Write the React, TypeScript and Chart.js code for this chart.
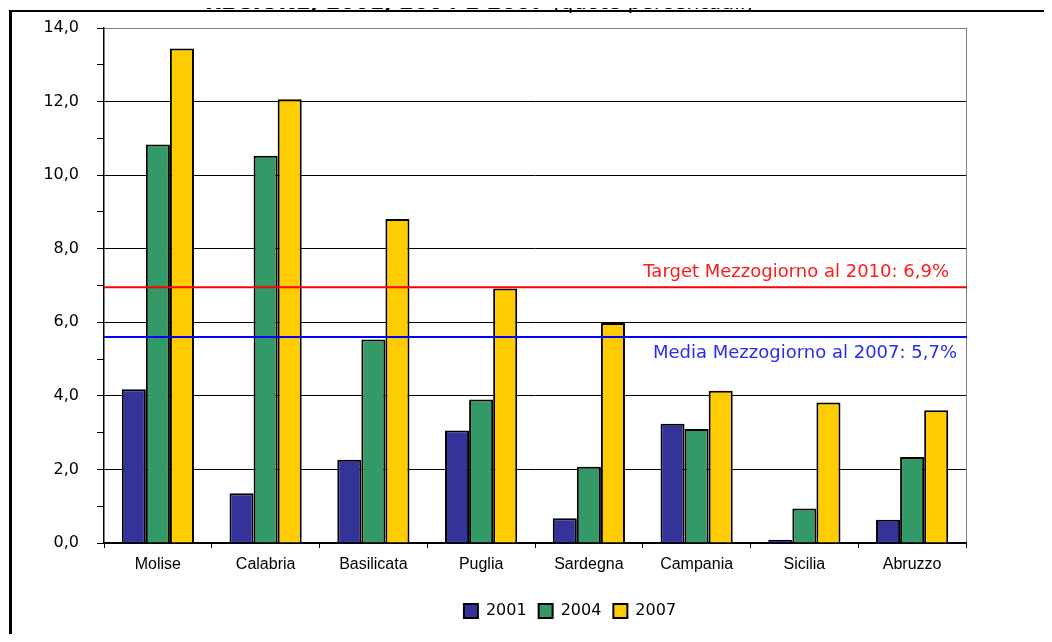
import React, { useEffect, useRef } from 'react';
import { Chart, registerables } from 'chart.js';

Chart.register(...registerables);

const titleBold = 'REGIONE, 2001, 2004 E 2007';
const titleRest = ' (quote percentuali)';

const categories = ['Molise', 'Calabria', 'Basilicata', 'Puglia', 'Sardegna', 'Campania', 'Sicilia', 'Abruzzo'];
const seriesLabels = ['2001', '2004', '2007'];
const values2001 = [4.18, 1.35, 2.26, 3.06, 0.67, 3.24, 0.09, 0.63];
const values2004 = [10.83, 10.53, 5.53, 3.9, 2.07, 3.1, 0.94, 2.34];
const values2007 = [13.44, 12.06, 8.81, 6.92, 5.98, 4.14, 3.82, 3.61];
const seriesColors = ['#333399', '#339966', '#FFCC00'];

const yMin = 0;
const yMax = 14;
const yMajorStep = 2;

const refValues = [6.95, 5.6];
const refLabels = ['Target Mezzogiorno al 2010: 6,9%', 'Media Mezzogiorno al 2007: 5,7%'];
const refLineColors = ['#FF0000', '#0000FF'];
const refTextColors = ['#FF1A1A', '#2B2BF0'];

const refLinesPlugin = {
  id: 'refLines',
  afterDatasetsDraw(chart: any) {
    const { ctx, chartArea, scales } = chart;
    const y = scales.y;
    const textOffsets = [
      { dx: -17, dy: -10 },
      { dx: -9, dy: 21 },
    ];
    ctx.save();
    refValues.forEach((v, i) => {
      const py = y.getPixelForValue(v);
      ctx.beginPath();
      ctx.strokeStyle = refLineColors[i];
      ctx.lineWidth = 2;
      ctx.moveTo(chartArea.left, py);
      ctx.lineTo(chartArea.right + 1, py);
      ctx.stroke();
      ctx.fillStyle = refTextColors[i];
      ctx.font = '18px "DejaVu Sans"';
      ctx.textAlign = 'right';
      ctx.textBaseline = 'alphabetic';
      ctx.fillText(refLabels[i], chartArea.right + textOffsets[i].dx, py + textOffsets[i].dy);
    });
    ctx.restore();
  },
};

export default function App() {
  const canvasRef = useRef<HTMLCanvasElement | null>(null);

  useEffect(() => {
    const canvas = canvasRef.current;
    if (!canvas) return;
    const dataSets = [values2001, values2004, values2007];
    const chart = new Chart(canvas, {
      type: 'bar',
      data: {
        labels: categories,
        datasets: seriesLabels.map((label, i) => ({
          label,
          data: dataSets[i],
          backgroundColor: seriesColors[i],
          borderColor: '#000000',
          borderWidth: 2,
          categoryPercentage: 0.67,
          barPercentage: 1.0,
        })),
      },
      options: {
        responsive: false,
        animation: false,
        devicePixelRatio: 1,
        layout: { padding: { top: 28, left: 0, right: 0, bottom: 13 } },
        plugins: {
          title: { display: false },
          tooltip: { enabled: false },
          legend: {
            display: true,
            position: 'bottom',
            labels: {
              boxWidth: 14,
              boxHeight: 14,
              padding: 12,
              color: '#000000',
              font: { family: '"DejaVu Sans"', size: 16 },
            },
          },
        },
        scales: {
          x: {
            afterFit: (s: any) => {
              s.height = 48;
            },
            grid: {
              display: true,
              offset: true,
              drawTicks: true,
              tickLength: 5,
              tickColor: '#000000',
              lineWidth: 1,
              color: (c: any) => (c.type === 'tick' ? 'rgba(0,0,0,0)' : '#808080'),
            },
            border: { display: true, color: '#000000', width: 1.5 },
            ticks: {
              color: '#000000',
              padding: 7,
              font: { family: '"Liberation Sans"', size: 16 },
            },
          },
          y: {
            min: yMin,
            max: yMax,
            afterFit: (s: any) => {
              s.width = 104;
            },
            ticks: {
              stepSize: 1,
              padding: 18,
              color: '#000000',
              font: { family: '"DejaVu Sans"', size: 16 },
              callback: (v: any) => (Number(v) % yMajorStep === 0 ? Number(v).toFixed(1).replace('.', ',') : ''),
            },
            grid: {
              drawTicks: true,
              tickLength: 7,
              tickColor: '#000000',
              lineWidth: 1,
              color: (c: any) => {
                const v = c.tick ? c.tick.value : 0;
                if (v === yMax) return '#808080';
                return v % yMajorStep === 0 ? '#000000' : 'rgba(0,0,0,0)';
              },
            },
            border: { display: true, color: '#000000', width: 1.5 },
          },
          yR: {
            type: 'linear',
            position: 'right',
            display: true,
            afterFit: (s: any) => {
              s.width = 174;
            },
            grid: { display: false, drawTicks: false },
            ticks: { display: false },
            border: { display: false },
          },
        },
      },
      plugins: [refLinesPlugin],
    } as any);
    return () => chart.destroy();
  }, []);

  return (
    <div
      style={{
        position: 'relative',
        margin: -8,
        width: 1052,
        height: 642,
        overflow: 'hidden',
        background: '#ffffff',
      }}
    >
      <div
        style={{
          position: 'absolute',
          left: 205,
          top: -8,
          fontFamily: '"DejaVu Sans"',
          fontSize: 21,
          lineHeight: '21px',
          whiteSpace: 'nowrap',
          color: '#000',
        }}
      >
        <span style={{ fontWeight: 'bold' }}>{titleBold}</span>
        <span>{titleRest}</span>
      </div>
      <div
        style={{
          position: 'absolute',
          left: 9,
          top: 10,
          width: 1300,
          height: 900,
          borderTop: '2px solid #000',
          borderLeft: '3px solid #000',
          background: 'transparent',
        }}
      />
      <canvas
        ref={canvasRef}
        width={1140}
        height={642}
        style={{ position: 'absolute', left: 0, top: 0 }}
      />
    </div>
  );
}
